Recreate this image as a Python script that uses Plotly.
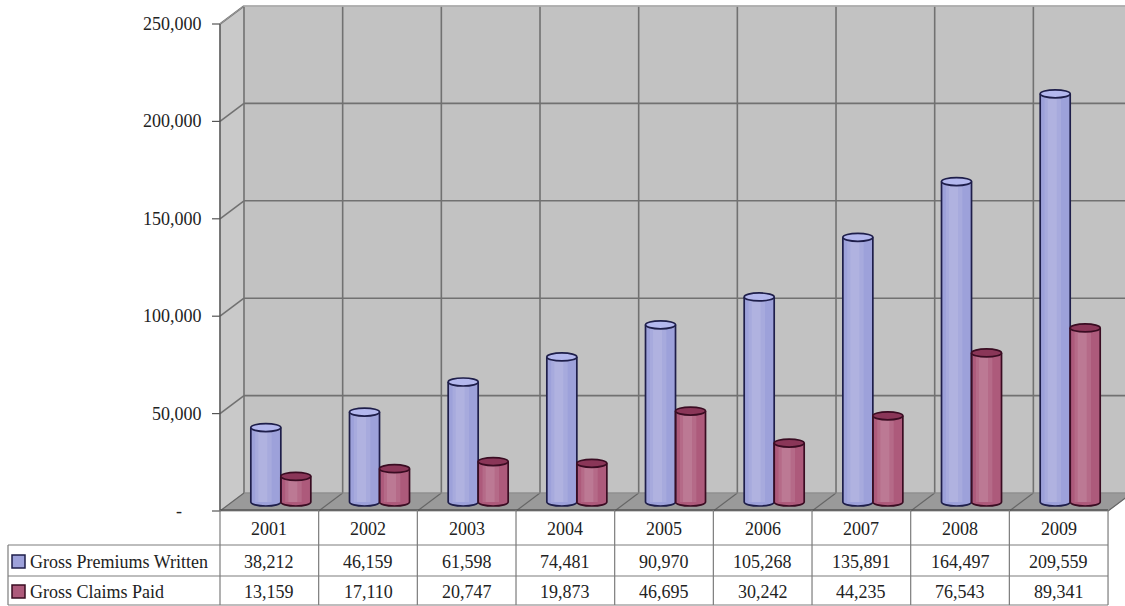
import plotly.graph_objects as go

# ---- data ----
years = ["2001", "2002", "2003", "2004", "2005", "2006", "2007", "2008", "2009"]
premiums_written = [38212, 46159, 61598, 74481, 90970, 105268, 135891, 164497, 209559]
claims_paid = [13159, 17110, 20747, 19873, 46695, 30242, 44235, 76543, 89341]
series_names = ["Gross Premiums Written", "Gross Claims Paid"]
y_ticks = [0, 50000, 100000, 150000, 200000, 250000]
y_tick_text = ["-", "50,000", "100,000", "150,000", "200,000", "250,000"]

# ---- geometry (pixel scale of the 1125x606 canvas) ----
W, H = 1125, 606
PX_CAT = 98.67             # pixels per category
X0_PX = 220                # front left edge of the plot
Y0_PX = 511                # front baseline
PX_PER_UNIT = 97.4 / 50000
DEPTH_X, DEPTH_Y = 24, 18  # perspective offset of the back wall


def dx(px):
    return px / PX_CAT


def dy(px):
    return px / PX_PER_UNIT


x_range = [-0.5 - dx(X0_PX), -0.5 + dx(W - X0_PX)]
y_range = [-dy(H - Y0_PX), dy(Y0_PX)]

n = len(years)
x_left, x_right = -0.5, n - 0.5
y_top = y_ticks[-1]
bx, by = dx(DEPTH_X), dy(DEPTH_Y)

WALL = "#c2c2c2"
SIDE = "#c9c9c9"
FLOOR = "#9a9a9a"
GRID = "#717171"
EDGE = "#555555"
TEXT = "#222222"
FONT = "Liberation Serif, Times New Roman, serif"

BLUE = "#9da1da"
BLUE_TOP = "#b4b8ee"
BLUE_LINE = "#1e1e4a"
RED = "#ad5a7b"
RED_TOP = "#8a3658"
RED_LINE = "#3a0c22"

shapes = []


def poly(points, fill, line_color=None, width=1.0, layer="below"):
    path = "M " + " L ".join(f"{x},{y}" for x, y in points) + " Z"
    shapes.append(dict(type="path", path=path, xref="x", yref="y",
                       fillcolor=fill, layer=layer,
                       line=dict(color=line_color or fill, width=width)))


def seg(x0, y0, x1, y1, color=GRID, width=1.6, layer="below"):
    shapes.append(dict(type="line", x0=x0, y0=y0, x1=x1, y1=y1, xref="x", yref="y",
                       line=dict(color=color, width=width), layer=layer))


# back wall, side wall, floor
poly([(x_left + bx, by), (x_right + bx + 1, by), (x_right + bx + 1, y_top + by),
      (x_left + bx, y_top + by)], WALL)
poly([(x_left, 0), (x_left + bx, by), (x_left + bx, y_top + by), (x_left, y_top)], SIDE)
poly([(x_left, 0), (x_right, 0), (x_right + bx, by), (x_left + bx, by)], FLOOR)

# horizontal grid on back and side walls
for t in y_ticks[1:]:
    seg(x_left + bx, t + by, x_right + bx + 1, t + by)
    seg(x_left, t, x_left + bx, t + by)
# vertical grid on back wall and dividers on the floor
for k in range(n + 1):
    seg(x_left + k + bx, by, x_left + k + bx, y_top + by)
    seg(x_left + k, 0, x_left + k + bx, by, color="#666666", width=1.2)
seg(x_left + bx, by, x_right + bx + 1, by, color="#8a8a8a", width=1)
seg(x_left, 0, x_left, y_top, color=EDGE, width=1.5)
seg(x_left, y_top, x_left + bx, y_top + by, color="#9a9a9a", width=1)
seg(x_left + bx, y_top + by, x_right + bx + 1, y_top + by, color="#d8d8d8", width=1)

# y ticks
for t in y_ticks:
    seg(x_left - dx(8), t, x_left, t, color=EDGE, width=1.2, layer="above")

# ---- cylinders ----
bar_w = dx(30)
cyl_shift_x = dx(11.5)
base = dy(9)
rx = bar_w / 2
ry = dy(4)
K = 0.5523


def ellipse_path(cx, cy):
    return (f"M {cx + rx},{cy} "
            f"C {cx + rx},{cy + K * ry} {cx + K * rx},{cy + ry} {cx},{cy + ry} "
            f"C {cx - K * rx},{cy + ry} {cx - rx},{cy + K * ry} {cx - rx},{cy} "
            f"C {cx - rx},{cy - K * ry} {cx - K * rx},{cy - ry} {cx},{cy - ry} "
            f"C {cx + K * rx},{cy - ry} {cx + rx},{cy - K * ry} {cx + rx},{cy} Z")


def lower_arc_body(cx, cy):
    return (f"C {cx - rx},{cy - K * ry} {cx - K * rx},{cy - ry} {cx},{cy - ry} "
            f"C {cx + K * rx},{cy - ry} {cx + rx},{cy - K * ry} {cx + rx},{cy}")


traces = []
for values, offset, body, top, line, name in [
    (premiums_written, -15, BLUE, BLUE_TOP, BLUE_LINE, series_names[0]),
    (claims_paid, 15, RED, RED_TOP, RED_LINE, series_names[1]),
]:
    xs = [i + cyl_shift_x + dx(offset) for i in range(n)]
    traces.append(go.Bar(x=xs, y=values, base=[base] * n, width=bar_w, name=name,
                         marker=dict(color=body, line=dict(width=0)),
                         showlegend=False, hoverinfo="skip"))
    # soft highlight bands giving the round shading of each cylinder
    for frac, shift, alpha in [(0.55, -0.08, 0.10), (0.3, -0.1, 0.10)]:
        traces.append(go.Bar(x=[x + shift * bar_w for x in xs], y=values, base=[base] * n,
                             width=bar_w * frac, marker=dict(color=f"rgba(255,255,255,{alpha})",
                                                             line=dict(width=0)),
                             showlegend=False, hoverinfo="skip"))
    for cx, v in zip(xs, values):
        top_y = base + v
        # rounded bottom
        shapes.append(dict(type="path", path=f"M {cx - rx},{base} " + lower_arc_body(cx, base) + " Z",
                           xref="x", yref="y", fillcolor=body, line=dict(width=0), layer="above"))
        # silhouette outline
        outline = (f"M {cx - rx},{top_y} L {cx - rx},{base} " + lower_arc_body(cx, base)
                   + f" L {cx + rx},{top_y}")
        shapes.append(dict(type="path", path=outline, xref="x", yref="y",
                           fillcolor="rgba(0,0,0,0)", line=dict(color=line, width=1.7),
                           layer="above"))
        # top cap
        shapes.append(dict(type="path", path=ellipse_path(cx, top_y), xref="x", yref="y",
                           fillcolor=top, line=dict(color=line, width=1.7), layer="above"))

annotations = []
for t, lab in zip(y_ticks, y_tick_text):
    annotations.append(dict(x=x_left, y=t, xref="x", yref="y", text=lab, showarrow=False,
                            xanchor="right", yanchor="middle",
                            xshift=-36 if t == 0 else -16,
                            font=dict(family=FONT, size=18, color=TEXT)))

# ---- data table ----
def py(p):
    return 1 - p / H


def px(p):
    return p / W


TABLE_LEFT = 8
ROW_TOPS = [510, 545, 576, 605]
col_edges = [X0_PX + k * PX_CAT for k in range(n + 1)]
TBL = "#7c7c7c"


def pline(x0, y0, x1, y1, color=TBL, width=1.2):
    shapes.append(dict(type="line", xref="paper", yref="paper",
                       x0=px(x0), y0=py(y0), x1=px(x1), y1=py(y1),
                       line=dict(color=color, width=width), layer="above"))


pline(col_edges[0], ROW_TOPS[0], col_edges[-1], ROW_TOPS[0], color=EDGE, width=1.5)
for r in ROW_TOPS[1:]:
    pline(TABLE_LEFT, r, col_edges[-1], r)
for e in col_edges:
    pline(e, ROW_TOPS[0], e, ROW_TOPS[-1])
pline(TABLE_LEFT, ROW_TOPS[1], TABLE_LEFT, ROW_TOPS[-1])

row_centers = [(ROW_TOPS[i] + ROW_TOPS[i + 1]) / 2 + 1 for i in range(3)]


def cell_text(x, y, text, anchor="center"):
    annotations.append(dict(x=px(x), y=py(y), xref="paper", yref="paper", text=text,
                            showarrow=False, xanchor=anchor, yanchor="middle",
                            font=dict(family=FONT, size=18, color=TEXT)))


for i, yr in enumerate(years):
    cx = (col_edges[i] + col_edges[i + 1]) / 2
    cell_text(cx, row_centers[0], yr)
    for r, vals in zip(row_centers[1:], [premiums_written, claims_paid]):
        cell_text(cx, r, f"{vals[i]:,}")

for r, name, fill, line in zip(row_centers[1:], series_names, [BLUE, RED], [BLUE_LINE, RED_LINE]):
    shapes.append(dict(type="rect", xref="paper", yref="paper",
                       x0=px(12), x1=px(25), y0=py(r + 6.5), y1=py(r - 6.5),
                       fillcolor=fill, line=dict(color=line, width=1.5), layer="above"))
    cell_text(28, r, name, anchor="left")

fig = go.Figure(traces)
fig.update_layout(
    width=W, height=H,
    margin=dict(l=0, r=0, t=0, b=0),
    paper_bgcolor="white", plot_bgcolor="white",
    barmode="overlay",
    xaxis=dict(range=x_range, visible=False, fixedrange=True),
    yaxis=dict(range=y_range, visible=False, fixedrange=True),
    shapes=shapes,
    annotations=annotations,
)
fig.write_html("out.html")
